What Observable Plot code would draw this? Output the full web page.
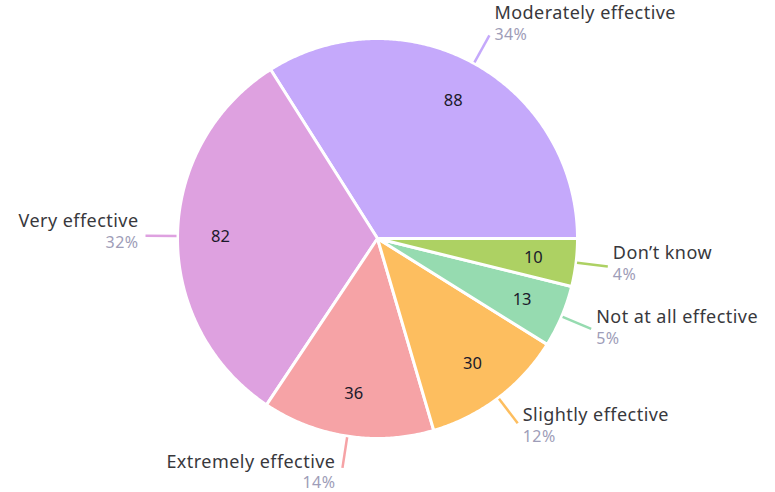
<!DOCTYPE html>
<html>
<head>
<meta charset="utf-8">
<script src="https://cdn.jsdelivr.net/npm/d3@7"></script>
<script src="https://cdn.jsdelivr.net/npm/@observablehq/plot@0.6"></script>
<style>
  html, body { margin: 0; padding: 0; background: #fff; }
  #chart svg { display: block; font-family: "Noto Sans", sans-serif; }
  #chart svg .lbl text { letter-spacing: 0.45px; }
</style>
</head>
<body>
<div id="chart"></div>
<script>
const categories = ["Moderately effective", "Very effective", "Extremely effective", "Slightly effective", "Not at all effective", "Don’t know"];
const counts = [88, 82, 36, 30, 13, 10];
const percentLabels = ["34%", "32%", "14%", "12%", "5%", "4%"];
const colors = ["#c5a9fb", "#dea1e0", "#f6a3a6", "#fdbe5f", "#96dbb0", "#add163"];

const W = 775, H = 492;
const cx = 377, cy = 238, R = 200;

const total = d3.sum(counts);
// angles counterclockwise from 3 o'clock (y up)
let acc = 0;
const slices = categories.map((c, i) => {
  const a0 = acc / total * 2 * Math.PI;
  acc += counts[i];
  const a1 = acc / total * 2 * Math.PI;
  return {cat: c, value: counts[i], pct: percentLabels[i], a0, a1, mid: (a0 + a1) / 2};
});

const polys = [];
for (const s of slices) {
  polys.push({cat: s.cat, x: 0, y: 0});
  const n = Math.max(2, Math.ceil((s.a1 - s.a0) / (Math.PI / 360)));
  for (let k = 0; k <= n; k++) {
    const a = s.a0 + (s.a1 - s.a0) * k / n;
    polys.push({cat: s.cat, x: R * Math.cos(a), y: R * Math.sin(a)});
  }
}

const rIn = R * 0.785, rLine0 = R + 1, rLine1 = R + 32;
const valuePts = slices.map(s => ({...s, x: rIn * Math.cos(s.mid), y: rIn * Math.sin(s.mid)}));
const leaders = slices.map(s => ({
  cat: s.cat,
  x1: rLine0 * Math.cos(s.mid), y1: rLine0 * Math.sin(s.mid),
  x2: rLine1 * Math.cos(s.mid), y2: rLine1 * Math.sin(s.mid)
}));
const labels = slices.map(s => {
  const c = Math.cos(s.mid), sn = Math.sin(s.mid);
  const right = c >= 0;
  return {
    ...s, right,
    x: rLine1 * c + (right ? 5 : -7),
    y: rLine1 * sn + 8.5 * sn
  };
});

const plot = Plot.plot({
  width: W,
  height: H,
  margin: 0,
  x: {domain: [-cx, W - cx], range: [0, W], axis: null},
  y: {domain: [cy - H, cy], range: [H, 0], axis: null},
  color: {domain: categories, range: colors},
  marks: [
    Plot.line(polys, {x: "x", y: "y", z: "cat", fill: "cat", stroke: "white", strokeWidth: 3, strokeLinejoin: "round", curve: "linear-closed"}),
    Plot.link(leaders, {x1: "x1", y1: "y1", x2: "x2", y2: "y2", stroke: "cat", strokeWidth: 2.5}),
    Plot.text(valuePts, {x: "x", y: "y", text: d => String(d.value), fontSize: 16.5, fill: "#1b1a2b"}),
    Plot.text(labels.filter(d => d.right), {x: "x", y: "y", text: "cat", textAnchor: "start", dy: -14.5, fontSize: 18, fill: "#38383c", className: "lbl"}),
    Plot.text(labels.filter(d => d.right), {x: "x", y: "y", text: "pct", textAnchor: "start", dy: 7, fontSize: 16, fill: "#9e9db8", className: "lbl"}),
    Plot.text(labels.filter(d => !d.right), {x: "x", y: "y", text: "cat", textAnchor: "end", dy: -14.5, fontSize: 18, fill: "#38383c", className: "lbl"}),
    Plot.text(labels.filter(d => !d.right), {x: "x", y: "y", text: "pct", textAnchor: "end", dy: 7, fontSize: 16, fill: "#9e9db8", className: "lbl"})
  ]
});
document.getElementById("chart").appendChild(plot);
</script>
</body>
</html>
